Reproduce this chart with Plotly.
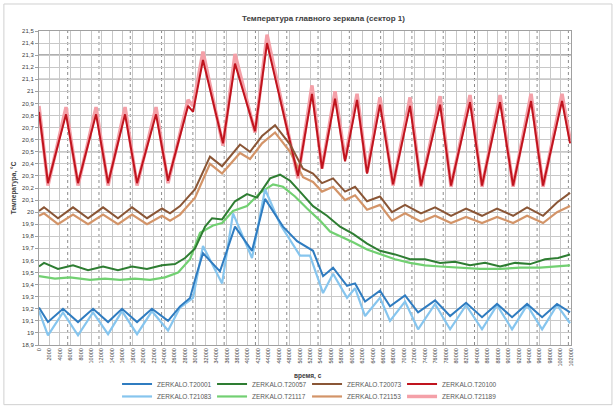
import plotly.graph_objects as go

# ---------------- data ----------------
x_labels = ["0", "2000", "4000", "6000", "8000", "10000", "12000", "14000", "16000", "18000",
            "20000", "22000", "24000", "26000", "28000", "30000", "32000", "34000", "36000", "38000",
            "40000", "42000", "44000", "46000", "48000", "50000", "52000", "54000", "56000", "58000",
            "60000", "62000", "64000", "66000", "68000", "70000", "72000", "74000", "76000", "78000",
            "80000", "82000", "84000", "86000", "88000", "90000", "92000", "94000", "96000", "98000",
            "100000", "102000"]

y_tick_vals = [18.9, 19.0, 19.1, 19.2, 19.3, 19.4, 19.5, 19.6, 19.7, 19.8, 19.9, 20.0, 20.1,
               20.2, 20.3, 20.4, 20.5, 20.6, 20.7, 20.8, 20.9, 21.0, 21.1, 21.2, 21.3, 21.4, 21.5]
y_tick_text = ["18,9", "19", "19,1", "19,2", "19,3", "19,4", "19,5", "19,6", "19,7", "19,8", "19,9",
               "20", "20,1", "20,2", "20,3", "20,4", "20,5", "20,6", "20,7", "20,8", "20,9",
               "21", "21,1", "21,2", "21,3", "21,4", "21,5"]

# ZERKALO.T20100 (dark red)
t20100_x = [0, 0.86, 2.59, 3.74, 5.47, 6.62, 8.25, 9.40, 11.22, 12.37, 14.29, 14.77, 15.72, 17.64,
            18.79, 20.71, 21.86, 24.83, 26.17, 27.13, 28.38, 29.34, 30.49, 31.45, 32.69, 33.94,
            35.57, 36.62, 38.45, 39.50, 41.32, 42.47, 44.20, 45.45, 47.17, 48.32, 50.14, 50.91]
t20100_y = [20.83, 20.24, 20.81, 20.24, 20.81, 20.24, 20.81, 20.24, 20.81, 20.26, 20.88, 20.83, 21.26,
            20.57, 21.23, 20.67, 21.40, 20.30, 20.98, 20.36, 20.94, 20.42, 20.93, 20.32, 20.89, 20.23,
            20.88, 20.22, 20.89, 20.22, 20.91, 20.22, 20.91, 20.22, 20.92, 20.22, 20.92, 20.57]
# ZERKALO.T21189 (pink)
t21189_x = t20100_x
t21189_y = [20.88, 20.22, 20.87, 20.22, 20.87, 20.22, 20.87, 20.22, 20.87, 20.24, 20.93, 20.88, 21.33,
            20.55, 21.31, 20.66, 21.47, 20.28, 21.05, 20.36, 21.00, 20.44, 20.98, 20.33, 20.95, 20.22,
            20.95, 20.21, 20.96, 20.21, 20.97, 20.21, 20.97, 20.21, 20.98, 20.21, 20.98, 20.60]

# ZERKALO.T20073 (brown)
t20073_x = [0, 0.48, 1.82, 3.26, 4.70, 6.14, 7.57, 8.92, 10.35, 11.79, 12.56, 13.52, 14.96, 16.39,
            17.55, 19.27, 20.23, 21.38, 22.63, 24.07, 25.31, 26.27, 27.13, 28.19, 29.34, 30.30,
            31.45, 32.69, 33.84, 35.09, 36.62, 37.97, 39.50, 40.94, 42.47, 43.91, 45.45, 46.79,
            48.32, 49.66, 50.91]
t20073_y = [20.01, 20.04, 19.95, 20.04, 19.95, 20.04, 19.95, 20.04, 19.95, 20.03, 19.99, 20.05, 20.19,
            20.46, 20.38, 20.56, 20.50, 20.63, 20.72, 20.56, 20.36, 20.32, 20.24, 20.28, 20.17, 20.21,
            20.09, 20.13, 20.00, 20.06, 19.99, 20.04, 19.97, 20.03, 19.97, 20.03, 19.97, 20.04,
            19.97, 20.08, 20.16]
# ZERKALO.T21153 (tan)
t21153_x = t20073_x
t21153_y = [19.97, 19.99, 19.90, 19.98, 19.90, 19.98, 19.90, 19.98, 19.90, 19.97, 19.93, 19.98, 20.12,
            20.40, 20.32, 20.49, 20.44, 20.57, 20.66, 20.50, 20.29, 20.25, 20.17, 20.21, 20.10, 20.14,
            20.02, 20.06, 19.93, 19.99, 19.92, 19.97, 19.91, 19.96, 19.91, 19.96, 19.91, 19.97,
            19.91, 20.00, 20.05]

# ZERKALO.T20057 (dark green)
t20057_x = [0, 0.48, 1.82, 3.26, 4.70, 6.14, 7.57, 8.92, 10.35, 11.79, 13.04, 14.0, 14.96, 15.92,
            16.59, 17.55, 18.79, 19.94, 20.90, 22.15, 23.11, 24.07, 25.02, 26.27, 27.61, 28.86,
            30.11, 31.45, 32.69, 34.13, 35.57, 37.01, 38.45, 39.88, 41.32, 42.76, 44.20, 45.64,
            47.08, 48.51, 49.76, 50.91]
t20057_y = [19.55, 19.58, 19.53, 19.56, 19.52, 19.55, 19.52, 19.55, 19.53, 19.56, 19.57, 19.62, 19.70,
            19.88, 19.95, 19.94, 20.09, 20.15, 20.12, 20.28, 20.31, 20.26, 20.17, 20.05, 19.97, 19.88,
            19.82, 19.74, 19.68, 19.65, 19.61, 19.61, 19.58, 19.59, 19.56, 19.58, 19.55, 19.58,
            19.57, 19.61, 19.62, 19.65]
# ZERKALO.T21117 (light green)
t21117_x = [0, 1.53, 2.97, 4.89, 6.33, 7.77, 9.20, 10.64, 12.08, 13.33, 14.48, 15.44, 16.68, 17.55,
            18.60, 19.94, 21.19, 22.44, 23.39, 24.54, 25.70, 26.94, 27.90, 29.15, 30.11, 31.45,
            32.69, 34.13, 35.57, 37.01, 38.45, 40.36, 42.28, 44.20, 46.12, 48.03, 49.47, 50.91]
t21117_y = [19.47, 19.45, 19.46, 19.44, 19.45, 19.44, 19.45, 19.44, 19.46, 19.50, 19.61, 19.83, 19.89,
            19.91, 20.01, 20.05, 20.16, 20.23, 20.21, 20.13, 20.03, 19.93, 19.84, 19.79, 19.75, 19.69,
            19.65, 19.61, 19.58, 19.56, 19.55, 19.54, 19.53, 19.53, 19.54, 19.54, 19.55, 19.56]

# ZERKALO.T20001 (blue)
t20001_x = [0, 0.86, 2.30, 3.74, 5.18, 6.62, 7.96, 9.40, 10.83, 12.37, 13.52, 14.48, 15.05, 15.72,
            17.35, 18.79, 20.42, 21.67, 23.39, 24.74, 26.27, 27.23, 28.19, 29.53, 30.30, 31.26,
            32.69, 33.65, 35.09, 36.34, 37.97, 39.41, 40.94, 42.47, 43.91, 45.35, 46.79, 48.23,
            49.66, 50.91]
t20001_y = [19.21, 19.09, 19.20, 19.09, 19.20, 19.09, 19.20, 19.09, 19.20, 19.10, 19.22, 19.29, 19.47,
            19.66, 19.51, 19.88, 19.68, 20.11, 19.88, 19.76, 19.68, 19.47, 19.54, 19.39, 19.41, 19.26,
            19.35, 19.22, 19.31, 19.17, 19.27, 19.14, 19.25, 19.13, 19.24, 19.13, 19.24, 19.13,
            19.24, 19.17]
# ZERKALO.T21083 (light blue)
t21083_x = [0, 0.86, 2.30, 3.74, 5.18, 6.62, 7.96, 9.40, 10.83, 12.37, 13.52, 14.77, 15.72, 17.55,
            18.60, 20.42, 21.67, 23.11, 25.02, 25.98, 27.23, 28.19, 29.53, 30.30, 31.26, 32.69,
            33.65, 35.09, 36.34, 37.97, 39.41, 40.94, 42.47, 43.91, 45.35, 46.79, 48.23, 49.66, 50.91]
t21083_y = [19.18, 18.98, 19.17, 18.98, 19.17, 18.99, 19.18, 18.99, 19.18, 19.02, 19.21, 19.29, 19.72,
            19.41, 19.99, 19.62, 20.19, 19.90, 19.64, 19.64, 19.33, 19.49, 19.29, 19.37, 19.14, 19.29,
            19.10, 19.26, 19.03, 19.24, 19.03, 19.23, 19.03, 19.23, 19.03, 19.23, 19.03, 19.23, 19.08]

# darker dashed vertical reference lines (category positions)
dash_marks = [2.75, 5.75, 8.75, 11.75, 14.75, 17.75, 20.75, 23.75, 26.75, 29.75, 32.75, 35.75,
              38.75, 41.75, 44.75, 47.75, 50.75]
# darker horizontal gridlines
dark_levels = [21.3, 21.1, 20.5]

# ---------------- figure ----------------
series = [
    ("ZERKALO.T20001", t20001_x, t20001_y, "#2f7cc0", 2.0, "legend"),
    ("ZERKALO.T20057", t20057_x, t20057_y, "#2e7d32", 2.0, "legend"),
    ("ZERKALO.T20073", t20073_x, t20073_y, "#8a5636", 2.0, "legend"),
    ("ZERKALO.T20100", t20100_x, t20100_y, "#c0141e", 2.0, "legend"),
    ("ZERKALO.T21083", t21083_x, t21083_y, "#86c5ee", 2.2, "legend2"),
    ("ZERKALO.T21117", t21117_x, t21117_y, "#72d072", 2.2, "legend2"),
    ("ZERKALO.T21153", t21153_x, t21153_y, "#d39468", 2.2, "legend2"),
    ("ZERKALO.T21189", t21189_x, t21189_y, "#f4a0a8", 3.5, "legend2"),
]

fig = go.Figure()
# draw light series first so dark ones sit on top, but keep legend order
order = [7, 6, 5, 4, 3, 2, 1, 0]
for idx in order:
    name, xs, ys, col, w, lg = series[idx]
    fig.add_trace(go.Scatter(x=xs, y=ys, mode="lines", name=name,
                             line=dict(color=col, width=w), legend=lg,
                             legendrank=idx))

shapes = []
for xv in dash_marks:
    shapes.append(dict(type="line", xref="x", yref="paper", x0=xv, x1=xv, y0=0, y1=1,
                       line=dict(color="#8c8c8c", width=1, dash="dot"), layer="below"))
for yv in dark_levels:
    shapes.append(dict(type="line", xref="paper", yref="y", x0=0, x1=1, y0=yv, y1=yv,
                       line=dict(color="#606060", width=1.2), layer="below"))
# outer chart border
shapes.append(dict(type="rect", xref="paper", yref="paper", x0=-0.066, x1=1.077, y0=-0.19, y1=1.086,
                   line=dict(color="#d0d0d0", width=1)))

font_main = "Liberation Sans"
legend_common = dict(orientation="h", xanchor="left", yanchor="middle",
                     xref="container", yref="container",
                     entrywidth=50, entrywidthmode="pixels",
                     font=dict(size=6.5, color="#595959"),
                     bgcolor="rgba(0,0,0,0)", tracegroupgap=0, itemwidth=30)
fig.update_layout(
    width=616, height=410,
    margin=dict(l=39, r=45, t=31, b=65, autoexpand=False),
    paper_bgcolor="white", plot_bgcolor="white",
    font=dict(family=font_main, size=6, color="#404040"),
    title=dict(text="<b>Температура главного зеркала (сектор 1)</b>", x=0.525, xanchor="center",
               y=0.955, yanchor="middle", font=dict(size=8, color="#404040")),
    showlegend=True,
    legend=dict(x=0.19, y=0.0634, **legend_common),
    legend2=dict(x=0.19, y=0.033, **legend_common),
    shapes=shapes,
    annotations=[
        dict(text="<b>Температура, °С</b>", x=-0.058, y=0.5, xref="paper", yref="paper",
             textangle=-90, showarrow=False, font=dict(size=6.5, color="#404040")),
        dict(text="<b>время, с</b>", x=0.505, y=-0.1, xref="paper", yref="paper",
             yanchor="middle", showarrow=False, font=dict(size=6.5, color="#404040")),
    ],
)

fig.update_xaxes(range=[0, 51], tickmode="array", tickvals=list(range(len(x_labels))),
                 ticktext=x_labels, tickangle=-90, tickfont=dict(size=5.5, color="#404040"),
                 showgrid=True, gridcolor="#c8c8c8", gridwidth=1, zeroline=False,
                 showline=True, linecolor="#a0a0a0", ticks="", mirror=True, automargin=False)
fig.update_yaxes(range=[18.9, 21.5], tickmode="array", tickvals=y_tick_vals, ticktext=y_tick_text,
                 tickfont=dict(size=6, color="#404040"), showgrid=True, gridcolor="#c8c8c8",
                 gridwidth=1, zeroline=False, showline=True, linecolor="#a0a0a0", mirror=True,
                 ticks="outside", ticklen=3, tickcolor="#a0a0a0", automargin=False)

fig.write_html("out.html")
